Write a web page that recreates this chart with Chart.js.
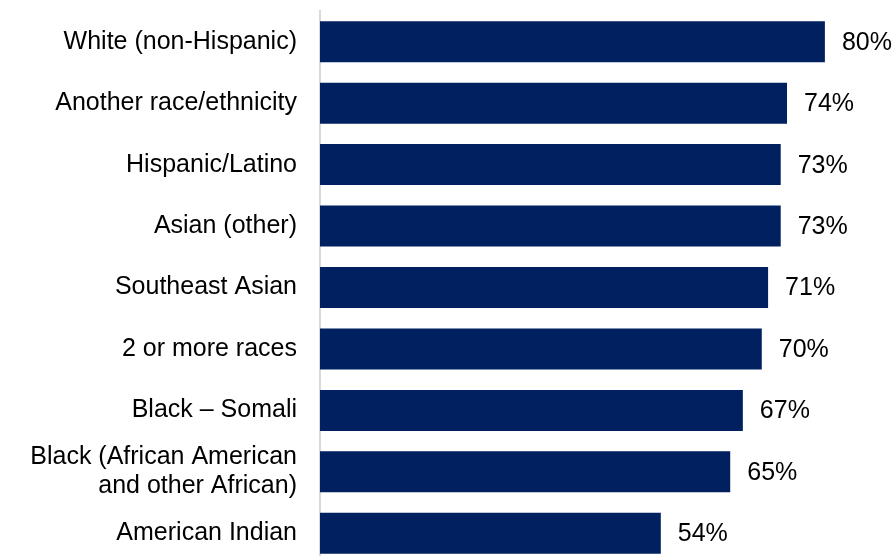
<!DOCTYPE html>
<html>
<head>
<meta charset="utf-8">
<script src="https://cdn.jsdelivr.net/npm/chart.js@4/dist/chart.umd.min.js"></script>
<style>
  html, body { margin: 0; padding: 0; background: #fff; overflow: hidden; }
  #wrap { position: relative; width: 896px; height: 564px; }
</style>
</head>
<body>
<div id="wrap"><canvas id="barChart"></canvas></div>
<script>
// Datos del grafico
const groups = [
  "White (non-Hispanic)",
  "Another race/ethnicity",
  "Hispanic/Latino",
  "Asian (other)",
  "Southeast Asian",
  "2 or more races",
  "Black \u2013 Somali",
  ["Black (African American", "and other African)"],
  "American Indian"
];
const rates = [80, 74, 73, 73, 71, 70, 67, 65, 54];

const FONT = "'Liberation Sans', Arial, sans-serif";

// Etiquetas de valor al final de cada barra
const valueLabels = {
  id: "valueLabels",
  afterDatasetsDraw(chart) {
    const ctx = chart.ctx;
    const meta = chart.getDatasetMeta(0);
    ctx.save();
    ctx.font = "25px " + FONT;
    ctx.fillStyle = "#000";
    ctx.textAlign = "left";
    ctx.textBaseline = "middle";
    meta.data.forEach((bar, i) => {
      ctx.fillText(rates[i] + "%", bar.x + 17, bar.y + 1);
    });
    ctx.restore();
  }
};

function initBarChart() {
  const el = document.getElementById("barChart");
  new Chart(el, {
    type: "bar",
    data: {
      labels: groups,
      datasets: [{
        data: rates,
        backgroundColor: "#002060",
        borderWidth: 0,
        barPercentage: 0.667,
        categoryPercentage: 1
      }]
    },
    options: {
      indexAxis: "y",
      responsive: true,
      maintainAspectRatio: false,
      animation: false,
      layout: { padding: { top: 11, right: 8, bottom: 0, left: 0 } },
      plugins: {
        legend: { display: false },
        tooltip: { enabled: false }
      },
      scales: {
        x: {
          display: false,
          min: 0,
          max: 90
        },
        y: {
          afterFit: (scale) => {
            scale.width = 320;
            // sin relleno extra arriba/abajo por las etiquetas
            scale.paddingTop = 0;
            scale.paddingBottom = 0;
          },
          grid: { display: false, drawTicks: false },
          border: { display: true, color: "#d9d9d9", width: 2 },
          ticks: {
            color: "#000",
            padding: 23,
            font: { family: FONT, size: 25, lineHeight: 1.16 }
          }
        }
      }
    },
    plugins: [valueLabels]
  });
}

document.addEventListener("DOMContentLoaded", initBarChart);
</script>
</body>
</html>
